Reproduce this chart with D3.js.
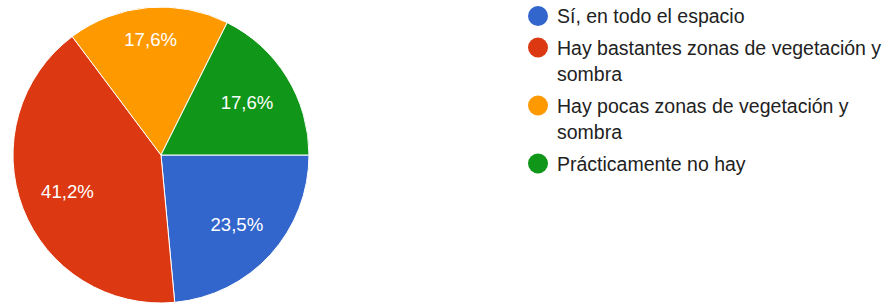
<!DOCTYPE html>
<html>
  <head>
    <title></title>
    <script src="https://cdnjs.cloudflare.com/ajax/libs/d3/7.8.5/d3.min.js"></script>
    <style>
      body { margin: 0; background: #fff; }
      text { font-family: "Liberation Sans", Arial, Helvetica, sans-serif; }
    </style>
  </head>
  <body>
    <script type="text/javascript">

    const categories = [
      "Sí, en todo el espacio",
      "Hay bastantes zonas de vegetación y sombra",
      "Hay pocas zonas de vegetación y sombra",
      "Prácticamente no hay"
    ];
    const values = [23.5, 41.2, 17.6, 17.6];
    const labels = ["23,5%", "41,2%", "17,6%", "17,6%"];
    const colors = ["#3366cc", "#dc3912", "#ff9900", "#109618"];

    let width = 893;
    let height = 305;
    let cx = 161, cy = 155, radius = 148;
    let labelSize = 18.6;
    let legendSize = 19.5;

    let svg = d3.select("body").append("svg")
      .attr("width", width)
      .attr("height", height);

    let g = svg.append("g")
      .attr("transform", "translate(" + cx + "," + cy + ")");

    let pie = d3.pie()
      .sort(null)
      .startAngle(Math.PI / 2)
      .endAngle(Math.PI / 2 + 2 * Math.PI)
      .value(d => d);

    let arc = d3.arc().innerRadius(0).outerRadius(radius);
    let arcs = pie(values);

    g.selectAll("path")
      .data(arcs)
      .enter().append("path")
      .attr("d", arc)
      .attr("fill", (d, i) => colors[i])
      .attr("stroke", "#fff")
      .attr("stroke-width", 1);

    // push each label out along the mid angle until its far corner reaches ~0.86r
    let reach = radius * 0.86;
    g.selectAll("text.pct")
      .data(arcs)
      .enter().append("text")
      .attr("class", "pct")
      .attr("fill", "#fff")
      .attr("font-size", labelSize)
      .attr("text-anchor", "middle")
      .text((d, i) => labels[i])
      .each(function(d) {
        let w = this.getComputedTextLength();
        let h = labelSize * 0.716;
        let a = (d.startAngle + d.endAngle) / 2;
        let ux = Math.sin(a), uy = -Math.cos(a);
        let b = Math.abs(ux) * w / 2 + Math.abs(uy) * h / 2;
        let c = (w * w + h * h) / 4 - reach * reach;
        let t = -b + Math.sqrt(b * b - c);
        d3.select(this)
          .attr("x", t * ux)
          .attr("y", t * uy + h / 2);
      });

    // legend
    let legend = svg.append("g");
    let lx = 538, tx = 557, maxW = 333;
    let lineH = 26.5, itemGap = 31.5;
    let baseline = 23.3;

    categories.forEach(function(name, i) {
      let item = legend.append("g");
      item.append("circle")
        .attr("cx", lx)
        .attr("cy", baseline - 7.3)
        .attr("r", 10)
        .attr("fill", colors[i]);

      let words = name.split(" ");
      let line = [];
      let y = baseline;
      let tspanText = item.append("text")
        .attr("x", tx).attr("y", y)
        .attr("font-size", legendSize)
        .attr("fill", "#222");
      words.forEach(function(wd) {
        line.push(wd);
        tspanText.text(line.join(" "));
        if (tspanText.node().getComputedTextLength() > maxW && line.length > 1) {
          line.pop();
          tspanText.text(line.join(" "));
          line = [wd];
          y += lineH;
          tspanText = item.append("text")
            .attr("x", tx).attr("y", y)
            .attr("font-size", legendSize)
            .attr("fill", "#222")
            .text(wd);
        }
      });
      baseline = y + itemGap;
    });

    </script>
  </body>
</html>
